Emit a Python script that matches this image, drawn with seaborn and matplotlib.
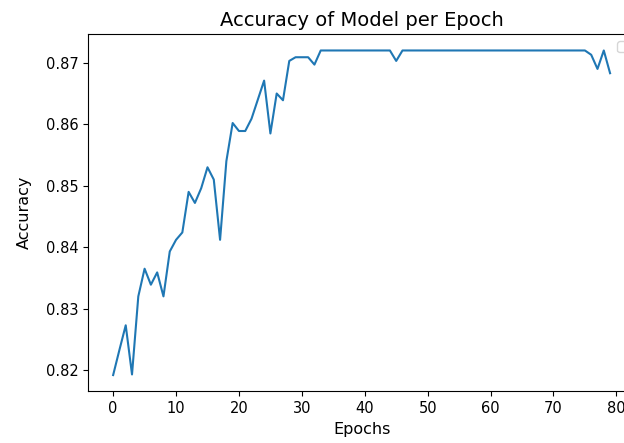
import numpy as np
import matplotlib
matplotlib.use("Agg")
from matplotlib import pyplot as plt
import seaborn as sns

# Accuracy per epoch
epochs = list(range(80))
accuracy = [
    0.8192, 0.8233, 0.8273, 0.8193, 0.8320, 0.8365, 0.8339, 0.8359, 0.8320, 0.8393,
    0.8412, 0.8424, 0.8490, 0.8472, 0.8496, 0.8530, 0.8510, 0.8412, 0.8540, 0.8602,
    0.8589, 0.8589, 0.8609, 0.8640, 0.8671, 0.8585, 0.8650, 0.8639, 0.8703, 0.8709,
    0.8709, 0.8709, 0.8697, 0.8720, 0.8720, 0.8720, 0.8720, 0.8720, 0.8720, 0.8720,
    0.8720, 0.8720, 0.8720, 0.8720, 0.8720, 0.8703, 0.8720, 0.8720, 0.8720, 0.8720,
    0.8720, 0.8720, 0.8720, 0.8720, 0.8720, 0.8720, 0.8720, 0.8720, 0.8720, 0.8720,
    0.8720, 0.8720, 0.8720, 0.8720, 0.8720, 0.8720, 0.8720, 0.8720, 0.8720, 0.8720,
    0.8720, 0.8720, 0.8720, 0.8720, 0.8720, 0.8720, 0.8713, 0.8690, 0.8720, 0.8683,
]

fig = plt.figure(figsize=(6.24, 4.43), dpi=100)
# the original screenshot cuts off the right side of the axes
ax = fig.add_axes([0.1415, 0.1167, 0.876, 0.806])
sns.lineplot(x=epochs, y=accuracy, ax=ax, color="#1f77b4", linewidth=1.5)
ax.set_xticks(np.arange(0, 81, 10))
ax.set_yticks([0.82, 0.83, 0.84, 0.85, 0.86, 0.87])
ax.tick_params(labelsize=10.5)
ax.set_xlabel("Epochs", fontsize=11.5)
ax.set_ylabel("Accuracy", fontsize=11.5, labelpad=10)
ax.set_title("Accuracy of Model per Epoch", fontsize=14)
ax.legend(loc="upper right")  # no labelled artists -> empty legend box

fig.savefig("out.png", dpi=100)
